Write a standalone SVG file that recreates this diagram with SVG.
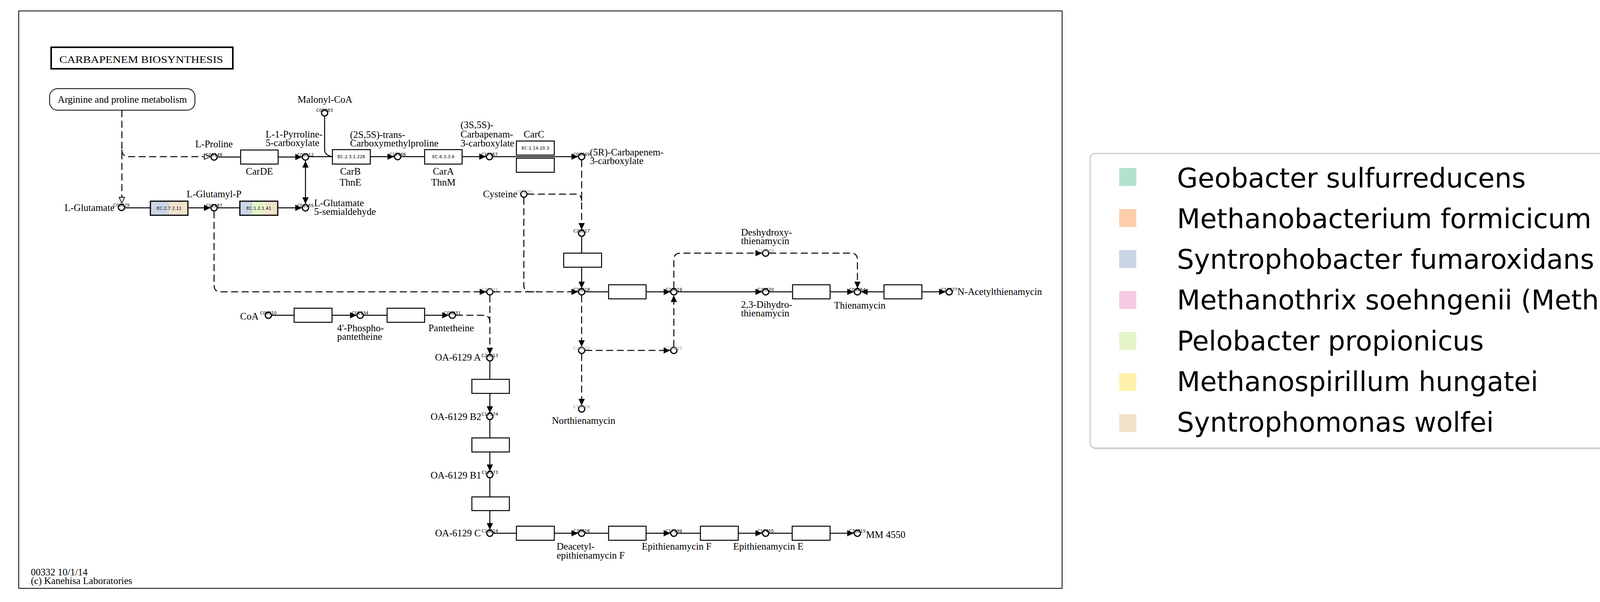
<svg xmlns="http://www.w3.org/2000/svg" width="4745" height="1541" viewBox="0 0 4745 1541">
<defs>
<style>
.lbl{font-family:"Liberation Serif","Times New Roman",serif;font-size:25px;fill:#000}
.mid{text-anchor:middle}
.end{text-anchor:end}
.cid{font-family:"DejaVu Sans","Liberation Sans",sans-serif;font-size:11px;fill:#000;text-anchor:middle}
.gry{fill:#9a9a9a}
.ec{font-family:"DejaVu Sans","Liberation Sans",sans-serif;font-size:11px;fill:#000;text-anchor:middle}
.cpd{fill:#fff;stroke:#000;stroke-width:3}
.enz{fill:#fff;stroke:#000;stroke-width:2.5}
.ln{fill:none;stroke:#000;stroke-width:2.5}
.ar{marker-end:url(#a)}
.dash{fill:none;stroke:#000;stroke-width:2.5;stroke-dasharray:18 9}
.leg{font-family:"DejaVu Sans","Liberation Sans",sans-serif;font-size:69px;fill:#000}
</style>
<marker id="a" viewBox="0 0 17 16" refX="17" refY="8" markerWidth="17" markerHeight="16" markerUnits="userSpaceOnUse" orient="auto-start-reverse"><path d="M0,0 L17,8 L0,16 z" fill="#000"/></marker>
<marker id="o" viewBox="0 0 17 16" refX="17" refY="8" markerWidth="17" markerHeight="16" markerUnits="userSpaceOnUse" orient="auto"><path d="M1,1 L16,8 L1,15 z" fill="#fff" stroke="#000" stroke-width="1.8"/></marker>
</defs>
<rect x="0" y="0" width="4745" height="1541" fill="#fff"/>
<rect x="48" y="28" width="2671" height="1478" fill="#fff" stroke="#000" stroke-width="2"/>

<g id="title">
<rect x="131" y="121" width="465" height="55" fill="#fff" stroke="#000" stroke-width="4"/>
<text class="lbl" x="152" y="161" font-size="28" textLength="419" lengthAdjust="spacingAndGlyphs">CARBAPENEM  BIOSYNTHESIS</text>
</g>

<g id="map-arginine">
<rect x="127" y="227" width="372" height="55" rx="20" fill="#fff" stroke="#000" stroke-width="2"/>
<text class="lbl mid" x="313" y="263">Arginine and proline metabolism</text>
</g>

<g id="footer">
<text class="lbl" x="79" y="1473">00332 10/1/14</text>
<text class="lbl" x="79" y="1495">(c) Kanehisa Laboratories</text>
</g>

<g id="connectors">
<!-- solid -->
<path class="ln" d="M557,402 H616"/>
<path class="ln ar" d="M712,402 H773"/>
<path class="ln" d="M791,401 H851"/>
<path class="ln" d="M831,298 V384 Q832,398 851,401"/>
<path class="ln ar" d="M948,401 H1009"/>
<path class="ln" d="M1027,401 H1087"/>
<path class="ln ar" d="M1183,401 H1244"/>
<path class="ln ar" d="M1262,401 H1480"/>
<path class="ln" d="M320,532 H385"/>
<path class="ln ar" d="M481,532 H539"/>
<path class="ln" d="M557,532 H614"/>
<path class="ln ar" d="M711,532 H773"/>
<path class="ln" d="M782,412 V522" marker-start="url(#a)" marker-end="url(#a)"/>
<path class="ln" d="M1489,606 V648"/>
<path class="ln ar" d="M1489,684 V738"/>
<path class="ln" d="M1498,747 H1558"/>
<path class="ln ar" d="M1654,747 H1716"/>
<path class="ln ar" d="M1734,747 H1951"/>
<path class="ln" d="M1969,747 H2029"/>
<path class="ln ar" d="M2125,747 H2186"/>
<path class="ln ar" d="M2263,747 H2204"/>
<path class="ln ar" d="M2360,747 H2421"/>
<path class="ln" d="M696,807 H753"/>
<path class="ln ar" d="M850,807 H913"/>
<path class="ln" d="M931,807 H991"/>
<path class="ln ar" d="M1087,807 H1149"/>
<path class="ln" d="M1254,925 V971"/>
<path class="ln ar" d="M1254,1007 V1057"/>
<path class="ln" d="M1254,1075 V1121"/>
<path class="ln ar" d="M1254,1157 V1206"/>
<path class="ln" d="M1254,1224 V1272"/>
<path class="ln ar" d="M1254,1307 V1356"/>
<path class="ln" d="M1263,1365 H1322"/>
<path class="ln ar" d="M1419,1365 H1480"/>
<path class="ln" d="M1498,1365 H1558"/>
<path class="ln ar" d="M1654,1365 H1716"/>
<path class="ln" d="M1734,1365 H1793"/>
<path class="ln ar" d="M1890,1365 H1951"/>
<path class="ln" d="M1969,1365 H2028"/>
<path class="ln ar" d="M2125,1365 H2186"/>
<!-- dashed -->
<path class="dash" d="M312,282 V521" marker-end="url(#o)"/>
<path class="dash" d="M312,383 Q312,401 330,401 H539" marker-end="url(#o)"/>
<path class="dash" d="M1350,497 H1472 Q1489,497 1489,514"/>
<path class="dash ar" d="M1489,410 V588"/>
<path class="dash" d="M1341,506 V730 Q1341,747 1358,747 H1370"/>
<path class="dash ar" d="M548,541 V730 Q548,747 565,747 H1245"/>
<path class="dash ar" d="M1263,747 H1480"/>
<path class="dash ar" d="M1254,756 V907"/>
<path class="dash" d="M1167,807 H1237 Q1254,807 1254,824"/>
<path class="dash ar" d="M1489,756 V888"/>
<path class="dash ar" d="M1498,897 H1716"/>
<path class="dash ar" d="M1725,888 V756"/>
<path class="dash ar" d="M1489,906 V1038"/>
<path class="dash ar" d="M1725,738 V665 Q1725,648 1742,648 H1951"/>
<path class="dash ar" d="M1969,648 H2178 Q2195,648 2195,665 V738"/>
</g>

<g id="enzymes">
<g id="e-carde"><rect class="enz" x="616" y="384" width="96" height="36"/><text class="lbl mid" x="664" y="447">CarDE</text></g>
<g id="e-2.3.1.226"><rect class="enz" x="851" y="383" width="97" height="37"/><text class="ec" x="899.5" y="405">EC:2.3.1.226</text><text class="lbl mid" x="897" y="447">CarB</text><text class="lbl mid" x="897" y="475">ThnE</text></g>
<g id="e-6.3.3.6"><rect class="enz" x="1087" y="383" width="96" height="37"/><text class="ec" x="1135" y="405">EC:6.3.3.6</text><text class="lbl mid" x="1135" y="447">CarA</text><text class="lbl mid" x="1135" y="475">ThnM</text></g>
<g id="e-1.14.20.3"><rect class="enz" x="1322" y="361" width="97" height="36"/><text class="ec" x="1370.5" y="383">EC:1.14.20.3</text><rect class="enz" x="1322" y="405" width="97" height="36"/><text class="lbl mid" x="1367" y="352">CarC</text></g>
<g id="e-2.7.2.11"><rect x="385" y="515" width="48" height="36" fill="#cbd5e8"/><rect x="433" y="515" width="48" height="36" fill="#f1e2cc"/><rect x="385" y="515" width="96" height="36" fill="none" stroke="#000" stroke-width="3"/><text class="ec" x="433" y="537">EC:2.7.2.11</text></g>
<g id="e-1.2.1.41"><rect x="614" y="515" width="32" height="36" fill="#cbd5e8"/><rect x="646" y="515" width="33" height="36" fill="#e6f5c9"/><rect x="679" y="515" width="32" height="36" fill="#f1e2cc"/><rect x="614" y="515" width="97" height="36" fill="none" stroke="#000" stroke-width="3"/><text class="ec" x="662.5" y="537">EC:1.2.1.41</text></g>
<g id="e-r1"><rect class="enz" x="1443" y="648" width="97" height="36"/></g>
<g id="e-r2"><rect class="enz" x="1558" y="729" width="96" height="36"/></g>
<g id="e-r3"><rect class="enz" x="2029" y="729" width="96" height="36"/></g>
<g id="e-r4"><rect class="enz" x="2263" y="729" width="97" height="36"/></g>
<g id="e-r5"><rect class="enz" x="753" y="789" width="97" height="36"/></g>
<g id="e-r6"><rect class="enz" x="991" y="789" width="96" height="36"/></g>
<g id="e-r7"><rect class="enz" x="1208" y="971" width="96" height="36"/></g>
<g id="e-r8"><rect class="enz" x="1208" y="1121" width="96" height="36"/></g>
<g id="e-r9"><rect class="enz" x="1208" y="1272" width="96" height="35"/></g>
<g id="e-r10"><rect class="enz" x="1322" y="1347" width="97" height="36"/></g>
<g id="e-r11"><rect class="enz" x="1558" y="1347" width="96" height="36"/></g>
<g id="e-r12"><rect class="enz" x="1793" y="1347" width="97" height="36"/></g>
<g id="e-r13"><rect class="enz" x="2028" y="1347" width="97" height="36"/></g>
</g>

<g id="compounds">
<g id="C00025"><circle class="cpd" cx="311" cy="531" r="8"/><text class="cid" x="311" y="529">C00025</text><text class="lbl end" x="293" y="540">L-Glutamate</text></g>
<g id="C00148"><circle class="cpd" cx="548" cy="402" r="8"/><text class="cid" x="548" y="400">C00148</text><text class="lbl mid" x="548" y="377">L-Proline</text></g>
<g id="C03912"><circle class="cpd" cx="782" cy="402" r="8"/><text class="cid" x="782" y="400">C03912</text><text class="lbl" x="680" y="352">L-1-Pyrroline-</text><text class="lbl" x="680" y="374">5-carboxylate</text></g>
<g id="C00083"><circle class="cpd" cx="831" cy="289" r="8"/><text class="cid" x="831" y="286">C00083</text><text class="lbl mid" x="832" y="263">Malonyl-CoA</text></g>
<g id="C17366"><circle class="cpd" cx="1018" cy="401" r="8"/><text class="cid" x="1018" y="399">C17366</text><text class="lbl" x="896" y="353">(2S,5S)-trans-</text><text class="lbl" x="896" y="375">Carboxymethylproline</text></g>
<g id="C17367"><circle class="cpd" cx="1253" cy="401" r="8"/><text class="cid" x="1253" y="399">C17367</text><text class="lbl" x="1179" y="328">(3S,5S)-</text><text class="lbl" x="1179" y="352">Carbapenam-</text><text class="lbl" x="1179" y="375">3-carboxylate</text></g>
<g id="C06669"><circle class="cpd" cx="1489" cy="401" r="8"/><text class="cid" x="1489" y="399">C06669</text><text class="lbl" x="1510" y="398">(5R)-Carbapenem-</text><text class="lbl" x="1510" y="420">3-carboxylate</text></g>
<g id="C02287"><circle class="cpd" cx="548" cy="532" r="8"/><text class="cid" x="548" y="530">C02287</text><text class="lbl mid" x="548" y="505">L-Glutamyl-P</text></g>
<g id="C01165"><circle class="cpd" cx="782" cy="532" r="8"/><text class="cid" x="782" y="530">C01165</text><text class="lbl" x="804" y="528">L-Glutamate</text><text class="lbl" x="804" y="550">5-semialdehyde</text></g>
<g id="C00097"><circle class="cpd" cx="1341" cy="497" r="8"/><text class="cid gry" x="1341" y="495">C00097</text><text class="lbl end" x="1324" y="505">Cysteine</text></g>
<g id="C20817"><circle class="cpd" cx="1489" cy="597" r="8"/><text class="cid" x="1489" y="595">C20817</text></g>
<g id="C20818"><circle class="cpd" cx="1489" cy="747" r="8"/><text class="cid" x="1489" y="745">C20818</text></g>
<g id="C20819"><circle class="cpd" cx="1725" cy="747" r="8"/><text class="cid" x="1725" y="745">C20819</text></g>
<g id="C20820"><circle class="cpd" cx="1960" cy="747" r="8"/><text class="cid" x="1960" y="745">C20820</text><text class="lbl" x="1897" y="788">2,3-Dihydro-</text><text class="lbl" x="1897" y="810">thienamycin</text></g>
<g id="C16368"><circle class="cpd" cx="1960" cy="648" r="8"/><text class="cid gry" x="1960" y="646">C16368</text><text class="lbl" x="1897" y="603">Deshydroxy-</text><text class="lbl" x="1897" y="625">thienamycin</text></g>
<g id="C06664"><circle class="cpd" cx="2195" cy="747" r="8"/><text class="cid" x="2195" y="745">C06664</text><text class="lbl mid" x="2201" y="790">Thienamycin</text></g>
<g id="C17377"><circle class="cpd" cx="2430" cy="747" r="8"/><text class="cid" x="2430" y="745">C17377</text><text class="lbl" x="2451" y="755">N-Acetylthienamycin</text></g>
<g id="C20821"><circle class="cpd" cx="1254" cy="747" r="8"/><text class="cid gry" x="1254" y="745">C20821</text></g>
<g id="C00010"><circle class="cpd" cx="687" cy="807" r="8"/><text class="cid" x="687" y="805">C00010</text><text class="lbl end" x="662" y="818">CoA</text></g>
<g id="C01134"><circle class="cpd" cx="922" cy="807" r="8"/><text class="cid" x="922" y="805">C01134</text><text class="lbl" x="863" y="848">4'-Phospho-</text><text class="lbl" x="863" y="870">pantetheine</text></g>
<g id="C00831"><circle class="cpd" cx="1158" cy="807" r="8"/><text class="cid" x="1158" y="805">C00831</text><text class="lbl mid" x="1155" y="848">Pantetheine</text></g>
<g id="C20822"><circle class="cpd" cx="1489" cy="897" r="8"/><text class="cid gry" x="1489" y="895">C20822</text></g>
<g id="C20823"><circle class="cpd" cx="1725" cy="897" r="8"/><text class="cid gry" x="1725" y="895">C20823</text></g>
<g id="C16369"><circle class="cpd" cx="1489" cy="1047" r="8"/><text class="cid gry" x="1489" y="1045">C16369</text><text class="lbl mid" x="1494" y="1085">Northienamycin</text></g>
<g id="C20813"><circle class="cpd" cx="1254" cy="916" r="8"/><text class="cid" x="1254" y="914">C20813</text><text class="lbl end" x="1231" y="923">OA-6129 A</text></g>
<g id="C17374"><circle class="cpd" cx="1254" cy="1066" r="8"/><text class="cid" x="1254" y="1064">C17374</text><text class="lbl end" x="1232" y="1075">OA-6129 B2</text></g>
<g id="C17373"><circle class="cpd" cx="1254" cy="1215" r="8"/><text class="cid" x="1254" y="1213">C17373</text><text class="lbl end" x="1232" y="1225">OA-6129 B1</text></g>
<g id="C20814"><circle class="cpd" cx="1254" cy="1365" r="8"/><text class="cid" x="1254" y="1363">C20814</text><text class="lbl end" x="1231" y="1373">OA-6129 C</text></g>
<g id="C20816"><circle class="cpd" cx="1489" cy="1365" r="8"/><text class="cid" x="1489" y="1363">C20816</text><text class="lbl" x="1425" y="1407">Deacetyl-</text><text class="lbl" x="1425" y="1430">epithienamycin F</text></g>
<g id="C17399"><circle class="cpd" cx="1725" cy="1365" r="8"/><text class="cid" x="1725" y="1363">C17399</text><text class="lbl" x="1643" y="1407">Epithienamycin F</text></g>
<g id="C17455"><circle class="cpd" cx="1960" cy="1365" r="8"/><text class="cid" x="1960" y="1363">C17455</text><text class="lbl" x="1877" y="1407">Epithienamycin E</text></g>
<g id="C20815"><circle class="cpd" cx="2195" cy="1365" r="8"/><text class="cid" x="2195" y="1363">C20815</text><text class="lbl" x="2217" y="1377">MM 4550</text></g>
</g>

<g id="legend">
<rect x="2795" y="397" width="1946" height="754" rx="12" fill="#d0d0d0" opacity="0.5"/>
<rect x="2791" y="393" width="1946" height="754" rx="12" fill="#fff" stroke="#cccccc" stroke-width="3"/>
<g id="leg-1"><rect x="2865" y="430" width="44" height="46" fill="#b3e2cd"/><text class="leg" x="3013" y="480">Geobacter sulfurreducens</text></g>
<g id="leg-2"><rect x="2865" y="535" width="44" height="46" fill="#fdcdac"/><text class="leg" x="3013" y="584">Methanobacterium formicicum</text></g>
<g id="leg-3"><rect x="2865" y="640" width="44" height="46" fill="#cbd5e8"/><text class="leg" x="3013" y="688">Syntrophobacter fumaroxidans</text></g>
<g id="leg-4"><rect x="2865" y="745" width="44" height="46" fill="#f4cae4"/><text class="leg" x="3013" y="792">Methanothrix soehngenii (Methanosaeta concilii)</text></g>
<g id="leg-5"><rect x="2865" y="850" width="44" height="46" fill="#e6f5c9"/><text class="leg" x="3013" y="897">Pelobacter propionicus</text></g>
<g id="leg-6"><rect x="2865" y="955" width="44" height="46" fill="#fff2ae"/><text class="leg" x="3013" y="1001">Methanospirillum hungatei</text></g>
<g id="leg-7"><rect x="2865" y="1060" width="44" height="46" fill="#f1e2cc"/><text class="leg" x="3013" y="1105">Syntrophomonas wolfei</text></g>
</g>
</svg>
